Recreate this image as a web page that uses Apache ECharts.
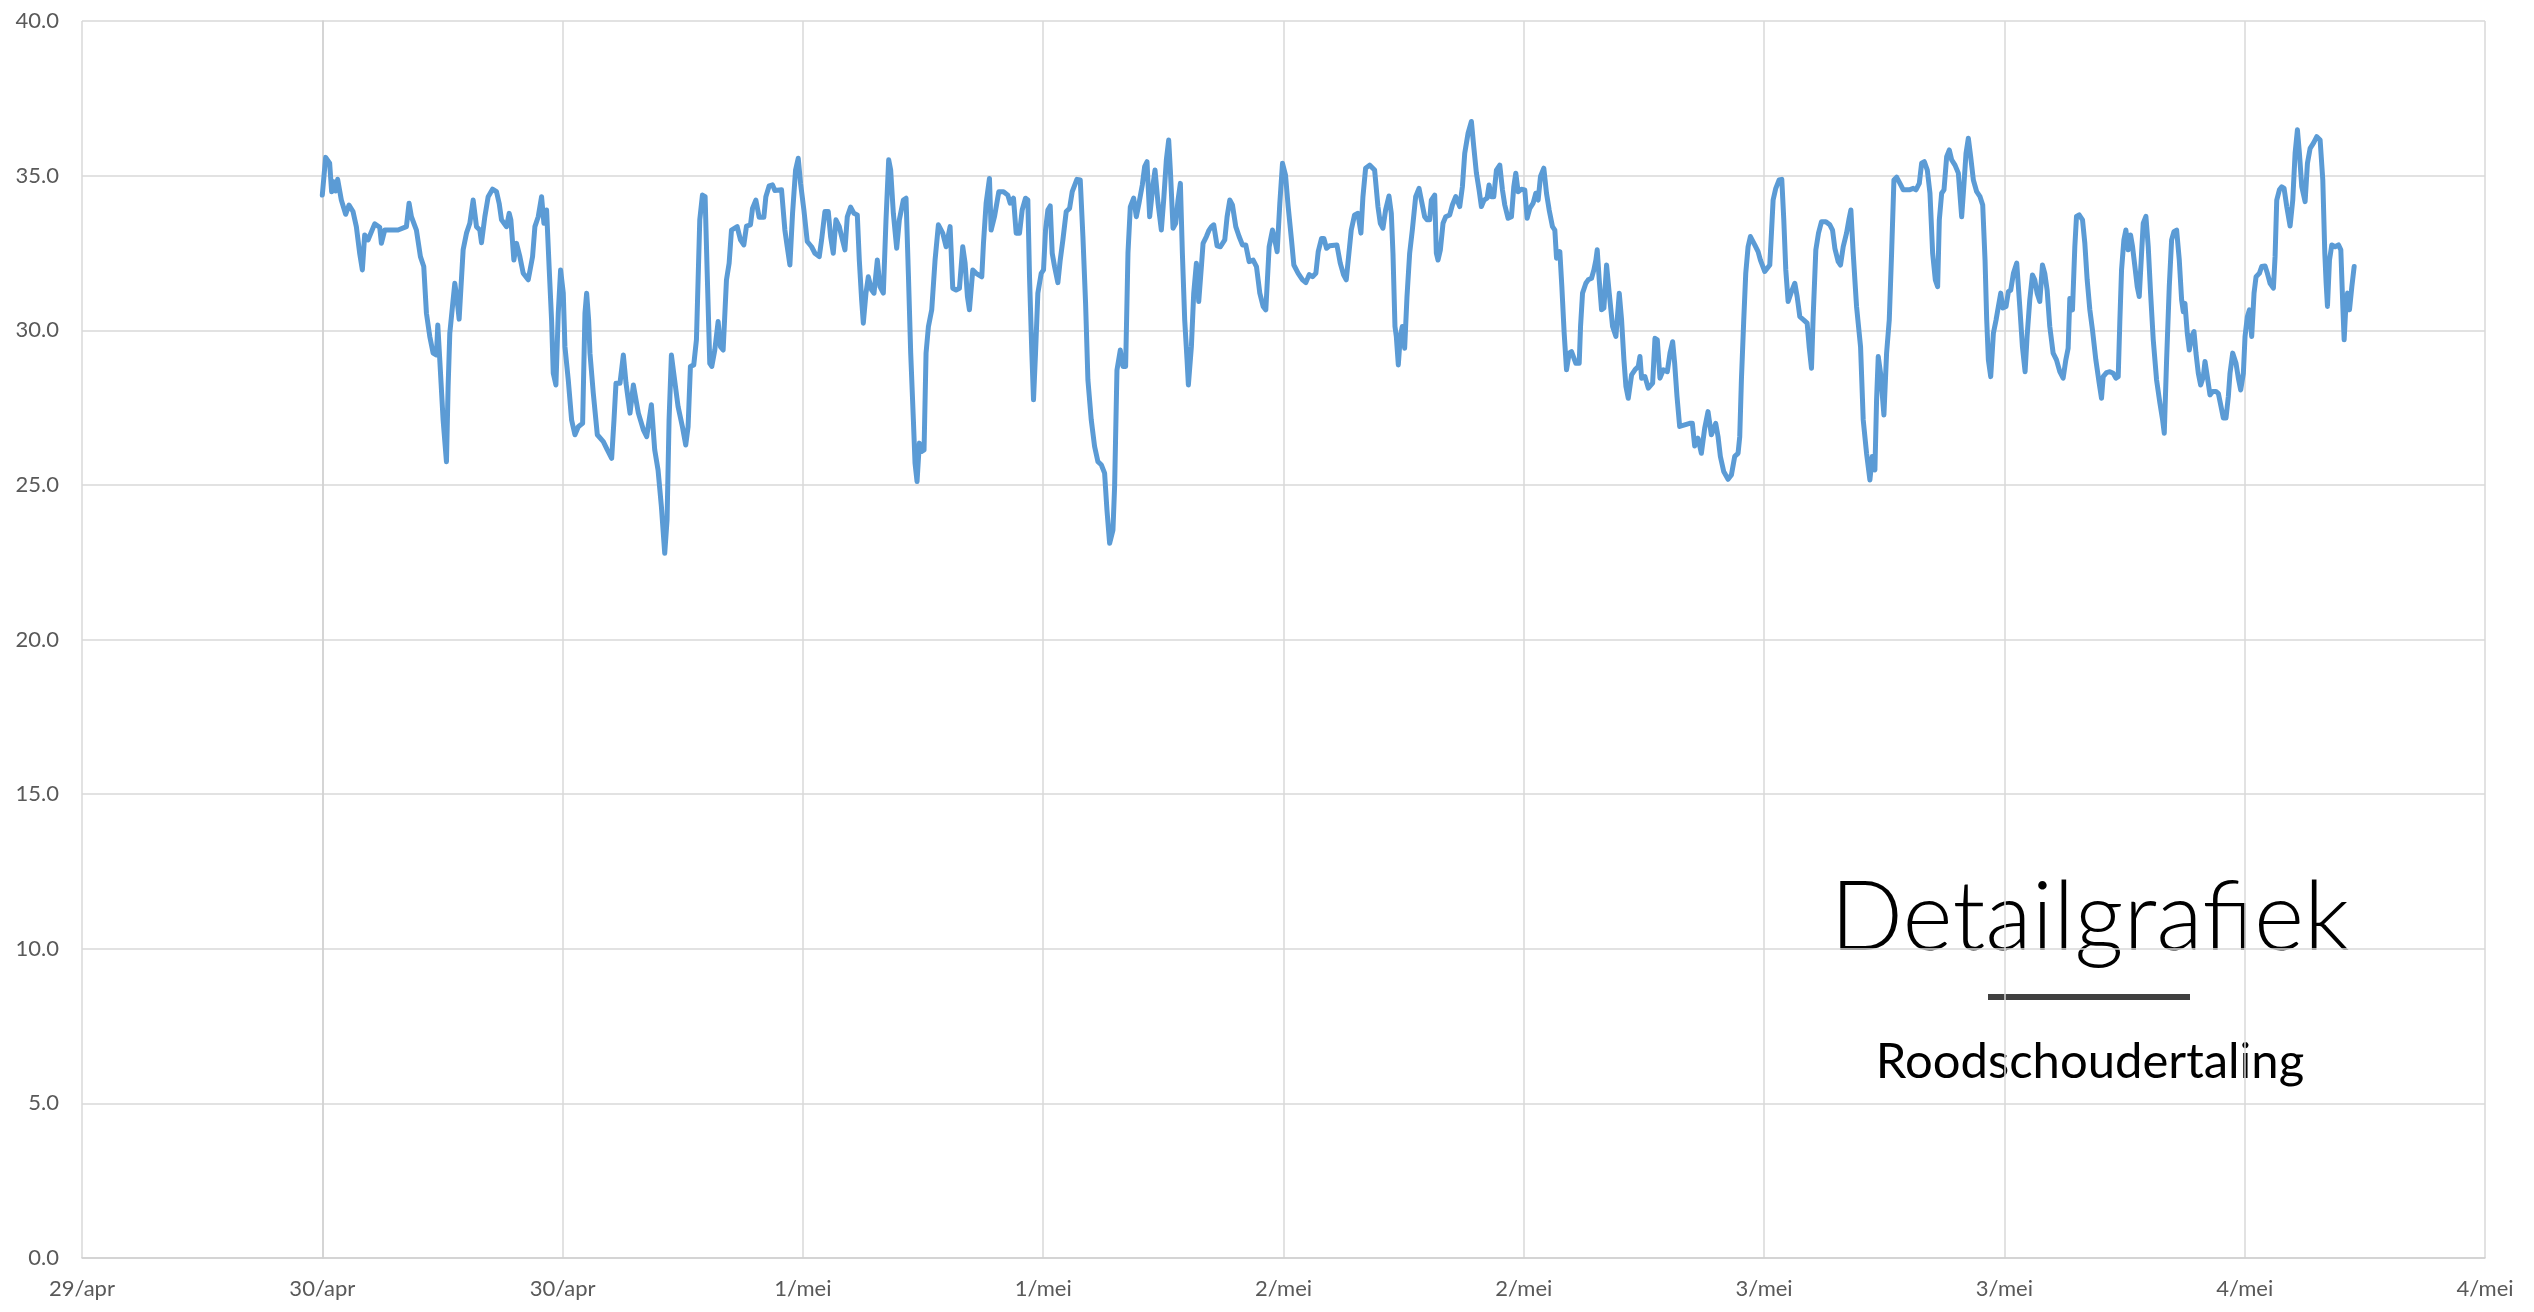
<!DOCTYPE html>
<html><head><meta charset="utf-8">
<script src="https://cdn.jsdelivr.net/npm/echarts@6/dist/echarts.min.js"></script>
<style>html,body{margin:0;padding:0;background:#fff}#chart{width:2534px;height:1312px}</style>
</head><body><div id="chart"></div>
<script>
// x = minutes since 30/apr 00:00, y = temperature
const xTickLabels = ['29/apr','30/apr','30/apr','1/mei','1/mei','2/mei','2/mei','3/mei','3/mei','4/mei','4/mei'];
const xMin = -720, xMax = 6480, xStep = 720;
const yMin = 0, yMax = 40, yStep = 5;
const titleText = 'Detailgrafiek';
const subtitleText = 'Roodschoudertaling';

const readingsPart1 = [[0,34.37],[10,35.59],[22,35.40],[28,34.48],[34,34.8],[40,34.5],[46,34.88],[57,34.21],[70,33.75],[80,34.05],[92,33.84],[102,33.35],[112,32.49],[120,31.95],[127,33.08],[137,32.92],[157,33.44],[172,33.33],[177,32.81],[187,33.24],[227,33.24],[252,33.35],[260,34.11],[267,33.67],[282,33.24],[294,32.38],[304,32.06],[312,30.55],[322,29.80],[332,29.26],[342,29.2],[346,30.17],[352,29.04],[362,27.1],[372,25.75],[377,28.18],[382,29.9],[390,30.77],[397,31.52],[404,30.98],[410,30.36],[422,32.6],[432,33.14],[442,33.46],[452,34.21],[462,33.35],[472,33.24],[477,32.83],[487,33.67],[497,34.32],[510,34.56],[522,34.48],[530,34.1],[537,33.57],[552,33.35],[560,33.78],[565,33.57],[574,32.27],[582,32.81],[592,32.38],[602,31.84],[617,31.63],[630,32.38],[637,33.35],[647,33.67],[657,34.32],[664,33.46],[672,33.89],[680,31.95],[687,30.33],[692,28.61],[700,28.23],[707,30.55],[714,31.95],[722,31.2],[727,29.47],[737,28.39],[747,27.1],[757,26.62],[767,26.88],[780,26.99],[787,30.55],[792,31.2],[798,30.33],[802,29.26],[812,27.96],[824,26.62],[842,26.4],[854,26.13],[867,25.86],[874,27.1],[880,28.29],[892,28.29],[902,29.2],[910,28.29],[922,27.32],[932,28.23],[947,27.32],[962,26.78],[972,26.56]];
const readingsPart2 = [[986,27.59],[996,26.13],[1006,25.48],[1016,24.3],[1026,22.79],[1033,23.87],[1039,27.1],[1046,29.2],[1053,28.61],[1066,27.53],[1079,26.88],[1089,26.29],[1096,26.88],[1103,28.83],[1113,28.88],[1121,29.69],[1126,31.63],[1131,33.57],[1139,34.37],[1147,34.32],[1153,31.95],[1161,28.93],[1167,28.83],[1176,29.36],[1186,30.28],[1193,29.47],[1201,29.36],[1211,31.63],[1219,32.17],[1226,33.24],[1243,33.35],[1253,32.92],[1263,32.76],[1271,33.37],[1283,33.41],[1289,33.94],[1299,34.21],[1309,33.65],[1323,33.65],[1329,34.32],[1339,34.67],[1349,34.7],[1356,34.52],[1376,34.54],[1386,33.24],[1393,32.7],[1401,32.11],[1409,33.78],[1418,35.18],[1426,35.56],[1433,34.75],[1443,33.89],[1453,32.87],[1466,32.7],[1476,32.49],[1489,32.38],[1496,32.92],[1506,33.84],[1516,33.84],[1523,33.03],[1531,32.49],[1539,33.57],[1549,33.35],[1556,33.03],[1566,32.6],[1573,33.67],[1583,33.98],[1593,33.78],[1603,33.73],[1609,32.27],[1616,30.98],[1621,30.23],[1629,31.2],[1636,31.73],[1646,31.3],[1653,31.2],[1663,32.27],[1671,31.41],[1681,31.2],[1689,33.57],[1697,35.51],[1703,35.18],[1711,33.78],[1721,32.65],[1729,33.57],[1741,34.21],[1749,34.27],[1756,31.84],[1763,29.26],[1771,27.1],[1776,25.7],[1782,25.11],[1789,26.35],[1796,26.08],[1803,26.13],[1809,29.26],[1816,30.11],[1826,30.66],[1836,32.27],[1846,33.41],[1859,33.14],[1869,32.7],[1881,33.35],[1889,31.36],[1899,31.3],[1909,31.36],[1919,32.7],[1926,32.17],[1933,31.09],[1939,30.66],[1949,31.95],[1959,31.84],[1976,31.73],[1981,32.81],[1989,34.11],[1999,34.91]];
const readingsPart3 = [[2004,33.24],[2014,33.67],[2027,34.48],[2041,34.48],[2054,34.37],[2061,34.11],[2071,34.27],[2079,33.14],[2089,33.14],[2097,33.89],[2107,34.27],[2114,34.21],[2119,31.73],[2126,29.26],[2131,27.75],[2137,29.26],[2144,31.2],[2154,31.84],[2161,31.95],[2167,33.24],[2174,33.89],[2181,34.02],[2187,32.49],[2194,32.06],[2204,31.54],[2211,32.27],[2219,32.92],[2229,33.84],[2239,33.94],[2247,34.48],[2261,34.88],[2271,34.86],[2279,33.03],[2287,30.87],[2294,28.39],[2304,27.1],[2314,26.24],[2324,25.75],[2334,25.65],[2344,25.38],[2351,24.19],[2359,23.11],[2369,23.54],[2374,24.95],[2381,28.71],[2391,29.36],[2399,28.83],[2407,28.83],[2414,32.49],[2421,33.99],[2431,34.27],[2439,33.67],[2447,34.11],[2457,34.7],[2464,35.29],[2471,35.45],[2479,33.67],[2489,34.7],[2495,35.18],[2504,34.11],[2514,33.24],[2521,34.21],[2529,35.51],[2536,36.15],[2541,35.18],[2549,33.3],[2557,33.46],[2564,34.21],[2571,34.75],[2577,32.49],[2584,30.33],[2591,29.04],[2595,28.23],[2604,29.47],[2611,31.2],[2619,32.17],[2626,30.93],[2634,32.06],[2639,32.81],[2649,33.03],[2657,33.24],[2664,33.35],[2671,33.41],[2681,32.73],[2691,32.7],[2704,32.92],[2711,33.67],[2719,34.21],[2727,34.05],[2737,33.35],[2747,33.03],[2757,32.76],[2767,32.76],[2777,32.22],[2789,32.27],[2799,32.06],[2809,31.2],[2819,30.77],[2827,30.66],[2837,32.7],[2847,33.24],[2854,32.92],[2861,32.54],[2869,34.11],[2877,35.4],[2886,35.02],[2894,34.0],[2904,32.92],[2911,32.11],[2924,31.84],[2937,31.63],[2947,31.54],[2957,31.8],[2967,31.73],[2977,31.84],[2984,32.54],[2994,32.97],[3001,32.97],[3009,32.65]];
const readingsPart4 = [[3018,32.73],[3040,32.76],[3050,32.17],[3060,31.79],[3068,31.63],[3076,32.49],[3083,33.24],[3093,33.73],[3103,33.78],[3112,33.14],[3118,34.32],[3126,35.24],[3138,35.34],[3153,35.18],[3163,34.0],[3170,33.46],[3178,33.3],[3186,33.89],[3196,34.34],[3203,33.78],[3208,32.49],[3214,30.12],[3218,29.8],[3224,28.88],[3230,29.8],[3236,30.12],[3243,29.42],[3250,31.09],[3258,32.49],[3266,33.24],[3276,34.32],[3286,34.59],[3293,34.21],[3303,33.67],[3310,33.57],[3318,33.57],[3323,34.21],[3333,34.37],[3338,32.49],[3343,32.27],[3350,32.6],[3358,33.46],[3366,33.67],[3378,33.73],[3386,34.05],[3396,34.32],[3408,34.0],[3416,34.64],[3423,35.72],[3433,36.37],[3443,36.75],[3450,35.94],[3458,35.08],[3466,34.54],[3473,34.0],[3481,34.21],[3490,34.27],[3496,34.7],[3503,34.32],[3510,34.32],[3518,35.18],[3528,35.34],[3536,34.54],[3543,34.05],[3553,33.62],[3563,33.67],[3570,34.64],[3576,35.08],[3583,34.48],[3593,34.56],[3603,34.54],[3610,33.62],[3618,33.94],[3628,34.11],[3636,34.43],[3643,34.21],[3650,34.97],[3660,35.24],[3668,34.43],[3676,33.89],[3686,33.35],[3693,33.24],[3698,32.33],[3708,32.54],[3714,31.41],[3721,29.9],[3728,28.72],[3736,29.26],[3743,29.31],[3756,28.93],[3766,28.93],[3770,30.12],[3776,31.2],[3786,31.52],[3793,31.63],[3803,31.68],[3810,31.95],[3816,32.27],[3820,32.6],[3826,31.63],[3833,30.66],[3840,30.72],[3848,32.11],[3856,31.2],[3866,30.12],[3876,29.8],[3886,31.2],[3893,30.33],[3900,29.04],[3906,28.18],[3913,27.8],[3923,28.56],[3933,28.72],[3943,28.83],[3948,29.15],[3953,28.45],[3963,28.5],[3973,28.13],[3986,28.29],[3993,29.74],[4000,29.69],[4008,28.45],[4018,28.72],[4030,28.66],[4038,29.26],[4046,29.63]];
const readingsPart5 = [[4052,28.93],[4059,27.86],[4067,26.89],[4082,26.94],[4097,26.99],[4105,26.99],[4112,26.26],[4122,26.51],[4132,26.02],[4142,26.83],[4152,27.37],[4162,26.62],[4175,26.99],[4182,26.56],[4189,25.92],[4199,25.43],[4212,25.18],[4222,25.32],[4232,25.92],[4242,26.02],[4247,26.56],[4252,28.39],[4259,30.33],[4265,31.84],[4272,32.7],[4279,33.03],[4292,32.76],[4302,32.54],[4309,32.27],[4322,31.9],[4337,32.11],[4342,33.14],[4347,34.21],[4355,34.59],[4365,34.86],[4373,34.88],[4379,33.57],[4385,31.95],[4392,30.93],[4402,31.25],[4412,31.52],[4419,31.09],[4427,30.44],[4439,30.33],[4449,30.23],[4455,29.47],[4462,28.77],[4467,30.44],[4475,32.6],[4483,33.14],[4492,33.51],[4505,33.51],[4517,33.41],[4525,33.24],[4532,32.65],[4542,32.22],[4549,32.11],[4557,32.7],[4567,33.14],[4574,33.57],[4580,33.89],[4587,32.49],[4597,30.77],[4609,29.47],[4617,27.1],[4627,26.02],[4637,25.16],[4644,25.92],[4652,25.48],[4657,27.75],[4662,29.15],[4669,28.61],[4679,27.26],[4687,29.26],[4695,30.33],[4702,32.49],[4709,34.86],[4717,34.95],[4727,34.75],[4737,34.54],[4755,34.54],[4767,34.59],[4775,34.54],[4785,34.75],[4792,35.4],[4800,35.45],[4809,35.18],[4817,34.43],[4825,32.49],[4833,31.63],[4840,31.41],[4845,33.57],[4852,34.43],[4859,34.54],[4867,35.61],[4875,35.83],[4882,35.51],[4892,35.34],[4902,35.08],[4912,33.67],[4919,34.75],[4925,35.72],[4932,36.21],[4939,35.61],[4947,34.86],[4957,34.48],[4967,34.32],[4975,34.05],[4982,32.27],[4987,30.33],[4992,29.04],[4999,28.5],[5007,29.9],[5015,30.33],[5022,30.77],[5029,31.2],[5035,30.72],[5045,30.77],[5052,31.25],[5059,31.3],[5067,31.84],[5077,32.17]];
const readingsPart6 = [[5086,30.77],[5094,29.47],[5102,28.66],[5108,29.8],[5116,30.98],[5124,31.79],[5131,31.63],[5138,31.2],[5146,30.93],[5154,32.11],[5161,31.84],[5168,31.3],[5176,30.12],[5186,29.26],[5196,29.04],[5206,28.66],[5216,28.45],[5224,29.04],[5231,29.42],[5236,31.03],[5244,30.66],[5251,32.7],[5256,33.68],[5264,33.73],[5274,33.57],[5281,32.81],[5288,31.63],[5296,30.66],[5304,30.0],[5314,29.04],[5324,28.29],[5331,27.8],[5336,28.5],[5346,28.63],[5356,28.66],[5366,28.61],[5374,28.45],[5381,28.5],[5386,30.33],[5391,31.95],[5398,32.92],[5404,33.24],[5411,32.6],[5418,33.08],[5424,32.7],[5431,32.06],[5438,31.41],[5444,31.09],[5451,32.49],[5456,33.46],[5464,33.68],[5471,32.7],[5478,31.2],[5486,29.69],[5496,28.39],[5506,27.64],[5514,27.1],[5519,26.67],[5526,29.04],[5534,31.41],[5541,32.92],[5548,33.19],[5556,33.24],[5564,32.27],[5571,30.98],[5576,30.6],[5581,30.87],[5588,29.9],[5594,29.36],[5601,29.8],[5608,29.96],[5614,29.26],[5621,28.61],[5628,28.23],[5636,28.5],[5641,28.99],[5648,28.5],[5656,27.91],[5664,28.02],[5674,28.02],[5681,27.96],[5688,27.59],[5696,27.16],[5704,27.16],[5711,27.86],[5716,28.61],[5724,29.26],[5734,28.93],[5741,28.45],[5748,28.07],[5756,28.61],[5761,29.8],[5768,30.44],[5774,30.66],[5781,29.8],[5788,31.2],[5794,31.73],[5804,31.84],[5811,32.06],[5821,32.08],[5828,31.84],[5836,31.52],[5846,31.36],[5851,32.38],[5856,34.21],[5864,34.54],[5871,34.64],[5878,34.59],[5886,34.0],[5896,33.37],[5904,34.21],[5911,35.72],[5918,36.48],[5924,35.72],[5931,34.64],[5941,34.16],[5948,35.4],[5956,35.88],[5966,36.05],[5976,36.26],[5986,36.15],[5994,34.86],[6000,32.49],[6004,31.52],[6008,30.77],[6014,32.27],[6021,32.76],[6031,32.7],[6041,32.76],[6048,32.6],[6054,30.77],[6058,29.69],[6064,30.98],[6068,31.2],[6074,30.66],[6081,31.41],[6088,32.06]];

const readings = [].concat(readingsPart1, readingsPart2, readingsPart3, readingsPart4, readingsPart5, readingsPart6);

const chart = echarts.init(document.getElementById('chart'), null, {renderer: 'canvas'});
const gridColor = '#D9D9D9';
const labelColor = '#595959';
const font = 'Lato, "Open Sans", sans-serif';

chart.setOption({
  animation: false,
  backgroundColor: '#ffffff',
  grid: {left: 82, right: 49, top: 21, bottom: 54},
  xAxis: {
    type: 'value', min: xMin, max: xMax, interval: xStep,
    axisLine: {show: true, lineStyle: {color: '#D0D0D0', width: 1.5}},
    axisTick: {show: false},
    splitLine: {show: true, lineStyle: {color: gridColor, width: 1.5}},
    axisLabel: {
      color: labelColor, fontFamily: font, fontSize: 22, margin: 20,
      showMinLabel: true, showMaxLabel: true,
      formatter: v => xTickLabels[Math.round((v - xMin) / xStep)]
    }
  },
  yAxis: {
    type: 'value', min: yMin, max: yMax, interval: yStep,
    axisLine: {show: true, lineStyle: {color: '#D0D0D0', width: 1.5}},
    axisTick: {show: false},
    splitLine: {show: true, lineStyle: {color: gridColor, width: 1.5}},
    axisLabel: {
      color: labelColor, fontFamily: font, fontSize: 22, margin: 23,
      formatter: v => v.toFixed(1)
    }
  },
  series: [{
    type: 'line',
    data: readings,
    showSymbol: false,
    smooth: false,
    lineStyle: {color: '#5B9BD5', width: 5, cap: 'round', join: 'round'}
  }],
  graphic: [
    {type: 'text', x: 2090, y: 919, style: {text: titleText, fill: '#000000', font: '300 96px Lato, "Open Sans", sans-serif', textAlign: 'center', textVerticalAlign: 'middle', align: 'center', verticalAlign: 'middle'}},
    {type: 'line', shape: {x1: 1988, y1: 997, x2: 2190, y2: 997}, style: {stroke: '#404040', lineWidth: 6}},
    {type: 'text', x: 2090, y: 1062, style: {text: subtitleText, fill: '#000000', font: '49px Lato, "Open Sans", sans-serif', textAlign: 'center', textVerticalAlign: 'middle', align: 'center', verticalAlign: 'middle'}}
  ]
});
</script>
</body></html>
